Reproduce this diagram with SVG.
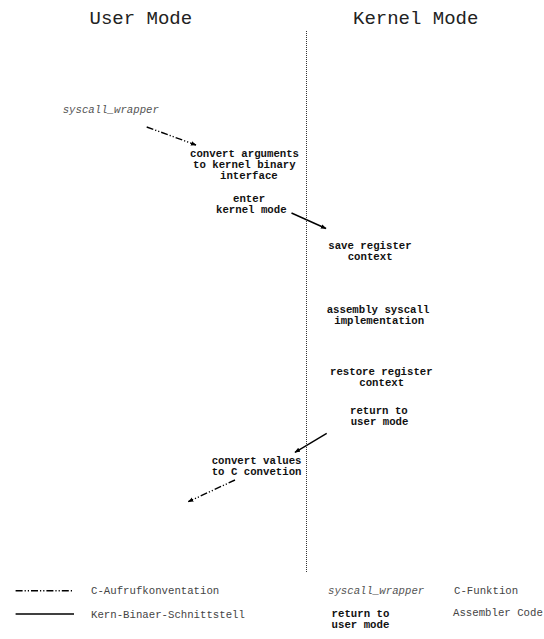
<svg xmlns="http://www.w3.org/2000/svg" width="544" height="639" viewBox="0 0 544 639">
  <style>
    .title { font-family: "Liberation Mono", "DejaVu Sans Mono", monospace; font-size: 19px; fill: #222; }
    .asm { font-family: "Liberation Mono", "DejaVu Sans Mono", monospace; font-size: 10.7px; font-weight: bold; fill: #111; }
    .cfn { font-family: "Liberation Mono", "DejaVu Sans Mono", monospace; font-size: 10.7px; font-style: italic; fill: #555; }
    .legend { font-family: "Liberation Mono", "DejaVu Sans Mono", monospace; font-size: 10.7px; fill: #444; }
    .abi { fill: none; stroke: #000; stroke-width: 1.4; }
    .ccall { fill: none; stroke: #000; stroke-width: 1.4; stroke-dasharray: 7 2 1.2 2 1.2 2; }
    .divider { fill: none; stroke: #333; stroke-width: 1; stroke-dasharray: 1 1; }
  </style>
  <defs>
    <marker id="head" viewBox="0 0 10 10" refX="9" refY="5" markerWidth="4" markerHeight="4" orient="auto" markerUnits="strokeWidth">
      <path d="M0,1 L10,5 L0,9 z" fill="#000"/>
    </marker>
  </defs>
  <rect width="544" height="639" fill="#fff"/>

  <!-- column headings -->
  <text class="title" x="89.5" y="24">User Mode</text>
  <text class="title" x="353" y="24">Kernel Mode</text>

  <!-- user / kernel boundary -->
  <line class="divider" x1="306.5" y1="31" x2="306.5" y2="572"/>

  <g id="syscall-wrapper">
    <text class="cfn" x="62.7" y="112.5">syscall_wrapper</text>
  </g>
  <g id="convert-arguments">
    <text class="asm" x="190" y="156.5">convert arguments</text>
    <text class="asm" x="193" y="167.5">to kernel binary</text>
    <text class="asm" x="220" y="178.5">interface</text>
  </g>
  <g id="enter-kernel">
    <text class="asm" x="233" y="201.5">enter</text>
    <text class="asm" x="216" y="212.5">kernel mode</text>
  </g>
  <g id="save-context">
    <text class="asm" x="328.3" y="248.5">save register</text>
    <text class="asm" x="347.7" y="259.5">context</text>
  </g>
  <g id="assembly-impl">
    <text class="asm" x="326.7" y="312.5">assembly syscall</text>
    <text class="asm" x="334.3" y="323.5">implementation</text>
  </g>
  <g id="restore-context">
    <text class="asm" x="330" y="375">restore register</text>
    <text class="asm" x="359.3" y="386">context</text>
  </g>
  <g id="return-user">
    <text class="asm" x="350" y="413.5">return to</text>
    <text class="asm" x="350.7" y="424.5">user mode</text>
  </g>
  <g id="convert-values">
    <text class="asm" x="211.7" y="464">convert values</text>
    <text class="asm" x="211.7" y="475">to C convetion</text>
  </g>

  <g id="connectors">
    <line class="ccall" x1="146.7" y1="127" x2="196" y2="145" marker-end="url(#head)"/>
    <line class="abi" x1="291.5" y1="213" x2="326" y2="228.5" marker-end="url(#head)"/>
    <line class="abi" x1="326.7" y1="433.3" x2="295" y2="452.3" marker-end="url(#head)"/>
    <line class="ccall" x1="235" y1="480" x2="188.3" y2="501.7" marker-end="url(#head)"/>
  </g>

  <g id="legend">
    <line class="ccall" x1="15.6" y1="590.8" x2="73" y2="590.8"/>
    <text class="legend" x="91" y="594">C-Aufrufkonventation</text>
    <line class="abi" x1="15.6" y1="614" x2="74" y2="614"/>
    <text class="legend" x="91" y="617.5">Kern-Binaer-Schnittstell</text>
    <text class="cfn" x="328" y="594">syscall_wrapper</text>
    <text class="legend" x="454" y="594">C-Funktion</text>
    <text class="asm" x="331.6" y="616.5">return to</text>
    <text class="asm" x="331.6" y="627.5">user mode</text>
    <text class="legend" x="453" y="616">Assembler Code</text>
  </g>
</svg>
